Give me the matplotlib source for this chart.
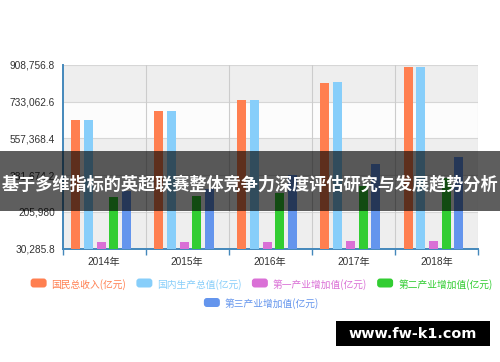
import matplotlib
matplotlib.use("Agg")
import matplotlib.pyplot as plt
from matplotlib.patches import Rectangle, FancyBboxPatch
from matplotlib.ticker import FixedLocator, FuncFormatter
import numpy as np

# ---------------- data ----------------
years = ["2014年", "2015年", "2016年", "2017年", "2018年"]
series_names = ["国民总收入(亿元)", "国内生产总值(亿元)", "第一产业增加值(亿元)",
                "第二产业增加值(亿元)", "第三产业增加值(亿元)"]
gni = [644791, 686450, 741140, 824828, 896916]
gdp = [643974, 689052, 743586, 827122, 900309]
primary = [60000, 61500, 63700, 65500, 67500]
secondary = [277572, 282040, 296548, 331581, 366001]
tertiary = [305000, 315000, 384221, 435000, 469575]
y_ticks = [30285.8, 205980.0, 381674.2, 557368.4, 733062.6, 908756.8]
colors = ["#ff7f50", "#87cefa", "#da70d6", "#32cd32", "#6495ed"]
title = "基于多维指标的英超联赛整体竞争力深度评估研究与发展趋势分析"
watermark = "www.fw-k1.com"

values = [gni, gdp, primary, secondary, tertiary]

W, H = 500, 362
fig = plt.figure(figsize=(W / 100, H / 100), dpi=100)
fig.patch.set_facecolor("white")

def px(x, y):
    return x / W, 1 - y / H

L, R, T, B = 62.5, 478, 65, 248.5
ax = fig.add_axes([L / W, 1 - B / H, (R - L) / W, (B - T) / H])
ax.set_facecolor("white")
ax.set_xlim(-0.5, len(years) - 0.5)
ax.set_ylim(y_ticks[0], y_ticks[-1])

# split areas (alternating bands)
for k in range(len(y_ticks) - 1):
    c = "#eeeeee" if k % 2 == 0 else "#fcfcfc"
    ax.axhspan(y_ticks[k], y_ticks[k + 1], color=c, zorder=0, lw=0)

# grid lines
for yv in y_ticks[1:]:
    ax.axhline(yv, color="#d6d6d6", lw=0.8, zorder=1)
for xb in np.arange(0.5, len(years) - 0.5, 1.0):
    ax.axvline(xb, color="#cccccc", lw=0.8, zorder=1)
ax.axvline(len(years) - 0.5, color="#cccccc", lw=0.8, zorder=1)

# bars
x = np.arange(len(years))
bw = 0.108
step = 0.153
shift = -0.036
for j, (vals, col) in enumerate(zip(values, colors)):
    off = (j - 2) * step + shift
    ax.bar(x + off, np.array(vals) - y_ticks[0], bottom=y_ticks[0], width=bw,
           color=col, zorder=3, lw=0)

# axes styling
for s in ["top", "right"]:
    ax.spines[s].set_visible(False)
for s in ["left", "bottom"]:
    ax.spines[s].set_color("#4488bb")
    ax.spines[s].set_linewidth(1.4)

ax.yaxis.set_major_locator(FixedLocator(y_ticks))

def fmt(v, pos=None):
    if abs(v - round(v)) < 1e-6:
        return f"{int(round(v)):,}"
    return f"{v:,.1f}"

ax.yaxis.set_major_formatter(FuncFormatter(fmt))
ax.tick_params(axis="y", length=0, pad=5.4, labelsize=7.3, labelcolor="#333333")
for lab in ax.get_yticklabels():
    lab.set_fontfamily(["Liberation Sans", "DejaVu Sans"])

ax.xaxis.set_major_locator(FixedLocator(list(np.arange(-0.5, len(years), 1.0))))
ax.xaxis.set_major_formatter(FuncFormatter(lambda v, p: ""))
ax.xaxis.set_minor_locator(FixedLocator(list(x)))
ax.set_xticks(x, labels=years, minor=True)
ax.tick_params(axis="x", which="major", length=4, width=1, color="#4488bb", direction="out")
ax.tick_params(axis="x", which="minor", length=0, pad=6, labelsize=7.3, labelcolor="#333333")
for lab in ax.get_xticklabels(minor=True):
    lab.set_fontfamily(["Liberation Sans", "Noto Sans CJK SC"])

# legend (manual, echarts-like)
fig.canvas.draw()
renderer = fig.canvas.get_renderer()
leg_font = dict(fontsize=7.0, family=["Noto Sans CJK SC", "DejaVu Sans"])
icon_w, icon_h, gap_t, gap_i = 16, 9, 5, 10
rows = [[0, 1, 2, 3], [4]]
row_y = [283, 302.5]
center_x = 261.5
for r, idxs in enumerate(rows):
    widths = []
    for i in idxs:
        t = fig.text(0, 0, series_names[i], **leg_font)
        bb = t.get_window_extent(renderer)
        widths.append(bb.width)
        t.remove()
    total = sum(icon_w + gap_t + w for w in widths) + gap_i * (len(idxs) - 1)
    cx = center_x - total / 2
    for i, w in zip(idxs, widths):
        yc = row_y[r]
        x0, y0 = px(cx, yc + icon_h / 2)
        box = FancyBboxPatch((x0, y0), icon_w / W, icon_h / H,
                             boxstyle="round,pad=0,rounding_size=0.006",
                             transform=fig.transFigure, facecolor=colors[i],
                             edgecolor="none", mutation_aspect=W / H)
        fig.add_artist(box)
        tx, ty = px(cx + icon_w + gap_t, yc)
        fig.text(tx, ty, series_names[i], color=colors[i], ha="left", va="center_baseline",
                 **leg_font)
        cx += icon_w + gap_t + w + gap_i

# title overlay band
y0 = 1 - 210.5 / H
band = Rectangle((0, y0), 1, (210.5 - 151) / H, transform=fig.transFigure,
                 facecolor="black", alpha=0.63, edgecolor="none", zorder=10)
fig.add_artist(band)
tx, ty = px(250, 184)
fig.text(tx, ty, title, color="white", fontsize=12.3, fontweight="bold",
         family=["Noto Sans CJK SC", "DejaVu Sans"], ha="center", va="center",
         zorder=11)

# watermark box
wx0, wy0 = px(336, 346)
wm = Rectangle((wx0, wy0), (490 - 336) / W, (346 - 321) / H, transform=fig.transFigure,
               facecolor="black", edgecolor="none", zorder=10)
fig.add_artist(wm)
tx, ty = px(413, 334)
fig.text(tx, ty, watermark, color="white", fontsize=10.4, fontweight="bold",
         family="DejaVu Sans", ha="center", va="center", zorder=11)

fig.savefig("out.png", dpi=100, facecolor="white")
